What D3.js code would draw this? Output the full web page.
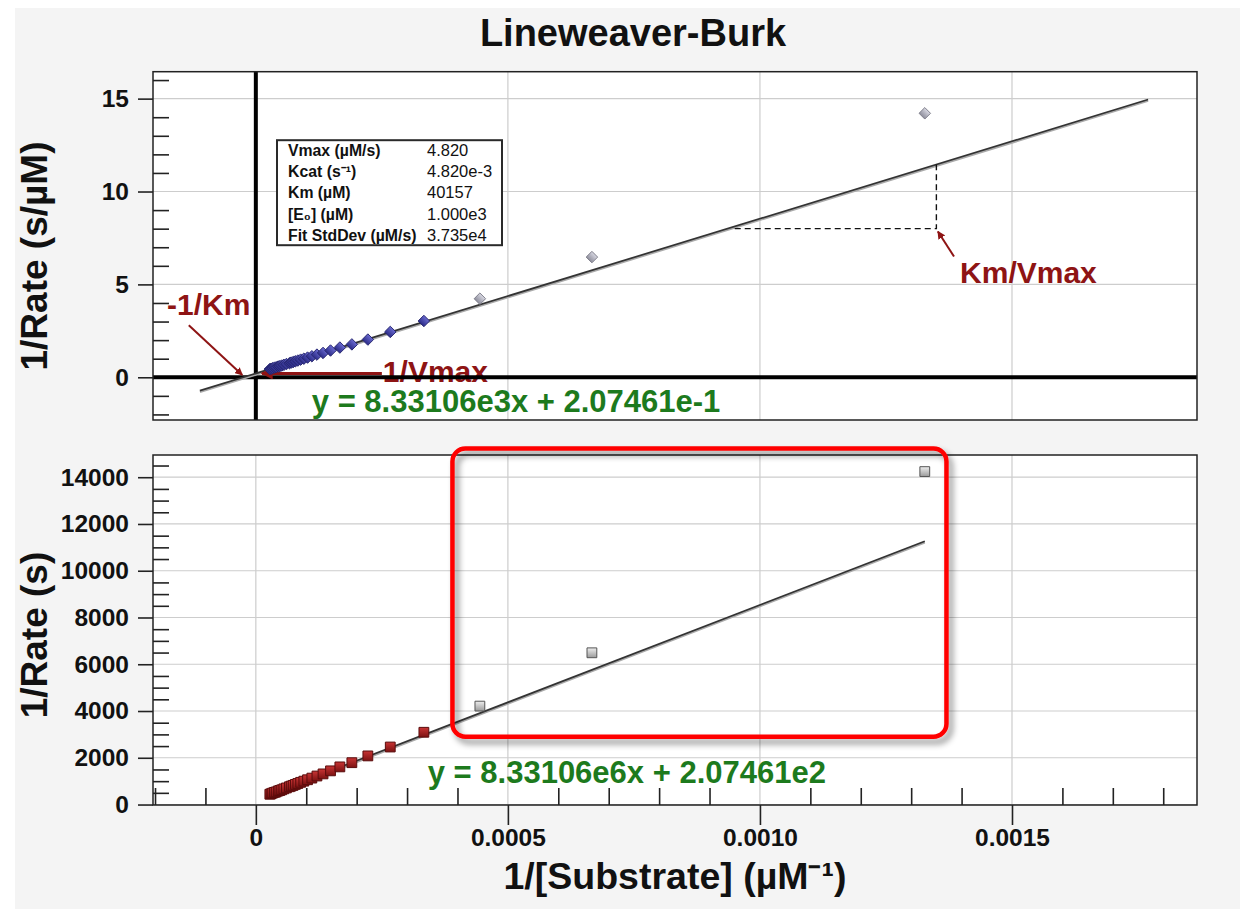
<!DOCTYPE html>
<html><head><meta charset="utf-8">
<script src="https://cdn.jsdelivr.net/npm/d3@7/dist/d3.min.js"></script>
<style>
body{margin:0;background:#fff;}
text{font-family:"Liberation Sans",Arial,sans-serif;}
</style>
</head><body>
<svg id="c" width="1248" height="909"></svg>
<script>
// ---------------- DATA ----------------
const invSubstrate = [0.001327, 0.00066667, 0.00044444, 0.00033333, 0.00026667, 0.00022222, 0.00019048, 0.00016667,
  0.00014815, 0.00013333, 0.00012121, 0.00011111, 0.00010256, 0.000095238, 0.000088889, 0.000083333, 0.000078431,
  0.000074074, 0.000070175, 0.000066667, 0.000060606, 0.000055556, 0.000051282, 0.000047619, 0.000044444,
  0.000040404, 0.000037037, 0.000033333, 0.000030303, 0.000027778];
const invRatePerUM = [14.21, 6.47, 4.23, 3.03, 2.44, 2.03, 1.77, 1.60, 1.44, 1.31, 1.22, 1.13, 1.06, 1.00, 0.95,
  0.90, 0.86, 0.82, 0.79, 0.76, 0.71, 0.67, 0.63, 0.60, 0.58, 0.54, 0.52, 0.49, 0.46, 0.44];
const invRateSec = [14240, 6490, 4210, 3090, 2460, 2080, 1790, 1610, 1440, 1310, 1220, 1130, 1060, 1000, 950,
  900, 860, 820, 790, 760, 710, 670, 630, 600, 580, 540, 520, 490, 460, 440];
const highlighted = [true, true, true, false, false, false, false, false, false, false, false, false, false, false, false,
  false, false, false, false, false, false, false, false, false, false, false, false, false, false, false];

const fitTop = {slope: 8.33106e3, intercept: 2.07461e-1};
const fitBottom = {slope: 8.33106e6, intercept: 2.07461e2};
const fitTopRange = [-0.000111, 0.00177];

const xTicks = [0, 0.0005, 0.0010, 0.0015];
const xTickLabels = ["0", "0.0005", "0.0010", "0.0015"];
const yTopTicks = [0, 5, 10, 15];
const yTopTickLabels = ["0", "5", "10", "15"];
const yBottomTicks = [0, 2000, 4000, 6000, 8000, 10000, 12000, 14000];
const yBottomTickLabels = ["0", "2000", "4000", "6000", "8000", "10000", "12000", "14000"];

const infoLabels = ["Vmax (µM/s)", "Kcat (s⁻¹)", "Km (µM)", "[E₀] (µM)", "Fit StdDev (µM/s)"];
const infoValues = ["4.820", "4.820e-3", "40157", "1.000e3", "3.735e4"];

// ---------------- LAYOUT ----------------
const svg = d3.select('#c');
const L = 153, R = 1197;
const T1 = 71.7, B1 = 420, T2 = 455, B2 = 805;
const DARKRED = '#8e1414', GREEN = '#1d7a1d';

const x = d3.scaleLinear().domain([-0.000204, 0.001867]).range([L, R]);
const y1 = d3.scaleLinear().domain([-2.3, 16.45]).range([B1, T1]);
const y2 = d3.scaleLinear().domain([-20, 14950]).range([B2, T2]);

const defs = svg.append('defs');
function grad(id, c1, c2) {
  const g = defs.append('linearGradient').attr('id', id).attr('x1', 0).attr('y1', 0).attr('x2', 0).attr('y2', 1);
  g.append('stop').attr('offset', '0%').attr('stop-color', c1);
  g.append('stop').attr('offset', '100%').attr('stop-color', c2);
}
grad('gGray', '#d8d8e2', '#8e8e9c');
grad('gBlue', '#6a6ad0', '#2c2c88');
grad('gRed', '#c83434', '#7c1212');
grad('gSq', '#eeeeee', '#9a9a9a');
const f = defs.append('filter').attr('id', 'sh').attr('x', '-10%').attr('y', '-10%').attr('width', '130%').attr('height', '130%');
f.append('feDropShadow').attr('dx', 4).attr('dy', 5).attr('stdDeviation', 3).attr('flood-color', '#000').attr('flood-opacity', 0.45);
defs.append('marker').attr('id', 'arr').attr('viewBox', '0 0 10 10').attr('refX', 9).attr('refY', 5)
  .attr('markerWidth', 4).attr('markerHeight', 4).attr('orient', 'auto-start-reverse').attr('markerUnits', 'strokeWidth')
  .append('path').attr('d', 'M0,0 L10,5 L0,10 Z').attr('fill', DARKRED);

// background panel
svg.append('rect').attr('x', 15).attr('y', 8).attr('width', 1225).attr('height', 901).attr('fill', '#f4f4f4');

// title
svg.append('text').attr('x', 633).attr('y', 46).attr('text-anchor', 'middle')
  .attr('font-size', 38).attr('font-weight', 'bold').attr('fill', '#111').text('Lineweaver-Burk');

// plot backgrounds
svg.append('rect').attr('x', L).attr('y', T1).attr('width', R - L).attr('height', B1 - T1).attr('fill', '#fff');
svg.append('rect').attr('x', L).attr('y', T2).attr('width', R - L).attr('height', B2 - T2).attr('fill', '#fff');

// gridlines
function grid(ys, yScale, y0, y1b) {
  const g = svg.append('g').attr('stroke', '#cdcdcd').attr('stroke-width', 1.2);
  g.selectAll('.v').data(xTicks).enter().append('line')
    .attr('x1', d => x(d)).attr('x2', d => x(d)).attr('y1', y0).attr('y2', y1b);
  g.selectAll('.h').data(ys).enter().append('line')
    .attr('x1', L).attr('x2', R).attr('y1', d => yScale(d)).attr('y2', d => yScale(d));
}
grid(yTopTicks, y1, T1, B1);
grid(yBottomTicks, y2, T2, B2);

// ---------------- TOP PLOT ----------------
const gTop = svg.append('g');
gTop.append('text').attr('x', x(0.000252)).attr('y', y1(-0.26)).attr('font-size', 30).attr('font-weight', 'bold')
  .attr('fill', DARKRED).text('1/Vmax');
gTop.append('line').attr('x1', x(0)).attr('x2', x(0)).attr('y1', T1).attr('y2', B1).attr('stroke', '#000').attr('stroke-width', 4);
gTop.append('line').attr('x1', L).attr('x2', R).attr('y1', y1(0)).attr('y2', y1(0)).attr('stroke', '#000').attr('stroke-width', 4);

const fitTopPts = fitTopRange.map(v => [x(v), y1(fitTop.slope * v + fitTop.intercept)]);
gTop.append('path').attr('d', d3.line()(fitTopPts.map(p => [p[0], p[1] + 1.2]))).attr('stroke', '#aaa').attr('stroke-width', 2.4).attr('fill', 'none');
gTop.append('path').attr('d', d3.line()(fitTopPts)).attr('stroke', '#333').attr('stroke-width', 1.7).attr('fill', 'none');

gTop.append('line').attr('x1', x(0.00025)).attr('y1', y1(fitTop.intercept)).attr('x2', x(0.000012)).attr('y2', y1(fitTop.intercept))
  .attr('stroke', DARKRED).attr('stroke-width', 3).attr('marker-end', 'url(#arr)');

gTop.append('text').attr('x', x(-0.000176)).attr('y', y1(3.35)).attr('font-size', 30).attr('font-weight', 'bold')
  .attr('fill', DARKRED).text('-1/Km');
gTop.append('line').attr('x1', x(-0.000133)).attr('y1', y1(2.8)).attr('x2', x(-fitTop.intercept / fitTop.slope) - 1).attr('y2', y1(0.12))
  .attr('stroke', DARKRED).attr('stroke-width', 2).attr('marker-end', 'url(#arr)');

const dashY = 8.0, dashX0 = 0.00095, dashX1 = 0.00135;
gTop.append('path').attr('d', d3.line()([[x(dashX0), y1(dashY)], [x(dashX1), y1(dashY)], [x(dashX1), y1(fitTop.slope * dashX1 + fitTop.intercept)]]))
  .attr('stroke', '#111').attr('stroke-width', 1.4).attr('stroke-dasharray', '6,4').attr('fill', 'none');
gTop.append('line').attr('x1', x(0.001385)).attr('y1', y1(6.5)).attr('x2', x(0.001353)).attr('y2', y1(7.85))
  .attr('stroke', DARKRED).attr('stroke-width', 2).attr('marker-end', 'url(#arr)');
gTop.append('text').attr('x', x(0.001397)).attr('y', y1(5.07)).attr('font-size', 30).attr('font-weight', 'bold')
  .attr('fill', DARKRED).text('Km/Vmax');

gTop.append('text').attr('x', x(0.000111)).attr('y', y1(-1.85)).attr('font-size', 31).attr('font-weight', 'bold')
  .attr('fill', GREEN).text('y = 8.33106e3x + 2.07461e-1');

const idx = d3.range(invSubstrate.length).reverse();
gTop.selectAll('.dia').data(idx).enter().append('path')
  .attr('d', d3.symbol(d3.symbolSquare, 66)())
  .attr('transform', i => `translate(${x(invSubstrate[i])},${y1(invRatePerUM[i])}) rotate(45)`)
  .attr('fill', i => highlighted[i] ? 'url(#gGray)' : 'url(#gBlue)')
  .attr('stroke', i => highlighted[i] ? '#7a7a86' : '#25256e').attr('stroke-width', 0.9);

const bx = L + 124, by = T1 + 68.5;
gTop.append('rect').attr('x', bx).attr('y', by).attr('width', 225).attr('height', 105)
  .attr('fill', '#fff').attr('stroke', '#2a2a2a').attr('stroke-width', 2);
gTop.selectAll('.il').data(infoLabels).enter().append('text')
  .attr('x', bx + 11).attr('y', (d, i) => by + 15.5 + i * 21.3).attr('font-size', 15.8).attr('font-weight', 'bold')
  .attr('fill', '#111').text(d => d);
gTop.selectAll('.iv').data(infoValues).enter().append('text')
  .attr('x', bx + 150).attr('y', (d, i) => by + 15.5 + i * 21.3).attr('font-size', 16.5)
  .attr('fill', '#111').text(d => d);

svg.append('rect').attr('x', L).attr('y', T1).attr('width', R - L).attr('height', B1 - T1).attr('fill', 'none').attr('stroke', '#222').attr('stroke-width', 1.5);

// ---------------- BOTTOM PLOT ----------------
const gBot = svg.append('g');
const bx0 = d3.min(invSubstrate), bx1 = d3.max(invSubstrate);
const fitBotPts = [bx0, bx1].map(v => [x(v), y2(fitBottom.slope * v + fitBottom.intercept)]);
gBot.append('path').attr('d', d3.line()(fitBotPts.map(p => [p[0], p[1] + 1.2]))).attr('stroke', '#aaa').attr('stroke-width', 2.4).attr('fill', 'none');
gBot.append('path').attr('d', d3.line()(fitBotPts)).attr('stroke', '#333').attr('stroke-width', 1.7).attr('fill', 'none');

gBot.selectAll('.sq').data(idx).enter().append('path')
  .attr('d', d3.symbol(d3.symbolSquare, 96)())
  .attr('transform', i => `translate(${x(invSubstrate[i])},${y2(invRateSec[i])})`)
  .attr('fill', i => highlighted[i] ? 'url(#gSq)' : 'url(#gRed)')
  .attr('stroke', i => highlighted[i] ? '#555' : '#5a0c0c').attr('stroke-width', 1);

gBot.append('text').attr('x', x(0.000341)).attr('y', y2(900)).attr('font-size', 31).attr('font-weight', 'bold')
  .attr('fill', GREEN).text('y = 8.33106e6x + 2.07461e2');

svg.append('rect').attr('x', L).attr('y', T2).attr('width', R - L).attr('height', B2 - T2).attr('fill', 'none').attr('stroke', '#222').attr('stroke-width', 1.5);

const hb = {x0: 0.00039, x1: 0.00137, y0: 2900, y1: 15230};
svg.append('rect').attr('x', x(hb.x0)).attr('y', y2(hb.y1)).attr('width', x(hb.x1) - x(hb.x0)).attr('height', y2(hb.y0) - y2(hb.y1))
  .attr('rx', 13).attr('fill', 'none').attr('stroke', '#ff0000').attr('stroke-width', 4.5).attr('filter', 'url(#sh)');

// ---------------- AXES ----------------
function styleAxis(g) {
  g.select('.domain').remove();
  g.selectAll('.tick line').attr('stroke', '#222').attr('stroke-width', 1.6);
  g.selectAll('.tick text').attr('font-size', 24.5).attr('font-weight', 'bold').attr('fill', '#111')
    .attr('font-family', '"Liberation Sans",Arial,sans-serif');
}
function minors(lo, hi, step, majors) {
  return d3.range(Math.round(lo / step), Math.round(hi / step) + 1).map(k => +(k * step).toFixed(8))
    .filter(v => !majors.some(m => Math.abs(m - v) < step / 10));
}
svg.append('g').attr('transform', `translate(${L},0)`)
  .call(d3.axisLeft(y1).tickValues(yTopTicks).tickSize(15).tickPadding(9).tickFormat((d, i) => yTopTickLabels[i])).call(styleAxis);
svg.append('g').attr('transform', `translate(${L},0)`)
  .call(d3.axisRight(y1).tickValues(minors(-2, 16, 1, yTopTicks)).tickSize(16).tickFormat('')).call(styleAxis);
svg.append('g').attr('transform', `translate(${L},0)`)
  .call(d3.axisLeft(y2).tickValues(yBottomTicks).tickSize(15).tickPadding(9).tickFormat((d, i) => yBottomTickLabels[i])).call(styleAxis);
svg.append('g').attr('transform', `translate(${L},0)`)
  .call(d3.axisRight(y2).tickValues(minors(500, 14500, 500, yBottomTicks)).tickSize(16).tickFormat('')).call(styleAxis);
svg.append('g').attr('transform', `translate(0,${B2})`)
  .call(d3.axisBottom(x).tickValues(xTicks).tickSize(20).tickPadding(4).tickFormat((d, i) => xTickLabels[i])).call(styleAxis);
svg.append('g').attr('transform', `translate(0,${B2})`)
  .call(d3.axisTop(x).tickValues(minors(-0.0002, 0.0018, 0.0001, xTicks)).tickSize(17).tickFormat('')).call(styleAxis);

svg.append('text').attr('x', (L + R) / 2).attr('y', 889).attr('text-anchor', 'middle')
  .attr('font-size', 37.5).attr('font-weight', 'bold').attr('fill', '#111').text('1/[Substrate] (µM⁻¹)');
svg.append('text').attr('transform', 'translate(47,256) rotate(-90)').attr('text-anchor', 'middle')
  .attr('font-size', 37).attr('font-weight', 'bold').attr('fill', '#111').text('1/Rate (s/µM)');
svg.append('text').attr('transform', 'translate(47,635) rotate(-90)').attr('text-anchor', 'middle')
  .attr('font-size', 37).attr('font-weight', 'bold').attr('fill', '#111').text('1/Rate (s)');
</script>
</body></html>
